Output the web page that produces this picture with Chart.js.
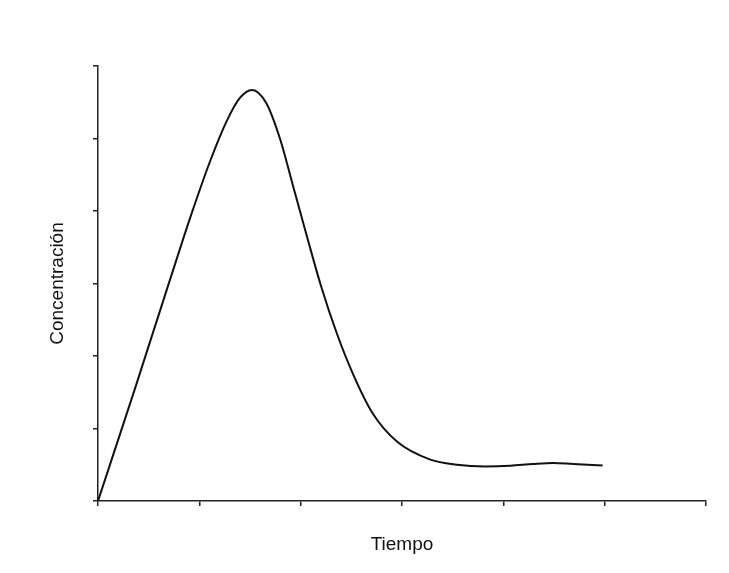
<!DOCTYPE html>
<html>
<head>
<meta charset="utf-8">
<script src="https://cdn.jsdelivr.net/npm/chart.js@4.4.0/dist/chart.umd.min.js"></script>
<style>
  html, body { margin: 0; padding: 0; background: #fff; }
  #wrap { width: 729px; height: 573px; }
</style>
</head>
<body>
<div id="wrap"><canvas id="myChart" width="729" height="573"></canvas></div>
<script>
// curve (axis units 0..6, no tick labels shown)
const tiempo = [0, 0.36, 0.71, 0.92, 1.11, 1.27, 1.40, 1.52, 1.66, 1.80, 1.92, 2.06, 2.20, 2.36, 2.52, 2.71, 2.95, 3.28, 3.54, 3.82, 4.07, 4.29, 4.49, 4.69, 4.98];
const concentracion = [0, 1.53, 3.05, 3.95, 4.70, 5.24, 5.56, 5.67, 5.49, 4.98, 4.37, 3.66, 2.97, 2.30, 1.74, 1.21, 0.82, 0.57, 0.50, 0.475, 0.485, 0.51, 0.525, 0.51, 0.49];
const tickValues = [0, 1, 2, 3, 4, 5, 6];

const ctx = document.getElementById('myChart');

var puntos = [];
tiempo.forEach((t, i) => {
    puntos.push({ x: t, y: concentracion[i] });
});

const fontTitle = { family: 'Liberation Sans, Arial, sans-serif', size: 19 };

new Chart(ctx, {
    type: 'scatter',
    data: {
        datasets: [{
            data: puntos,
            showLine: true,
            borderColor: '#111',
            borderWidth: 2,
            pointRadius: 0,
            cubicInterpolationMode: 'monotone',
            fill: false
        }]
    },
    options: {
        responsive: false,
        animation: false,
        layout: { padding: { left: 0, top: 66, right: 23, bottom: 0 } },
        plugins: { legend: { display: false }, tooltip: { enabled: false } },
        scales: {
            x: {
                type: 'linear',
                min: 0,
                max: 6,
                afterBuildTicks: (scale) => { scale.ticks = tickValues.map(v => ({ value: v })); },
                afterFit: (scale) => { scale.height = 72; },
                ticks: { display: false },
                grid: { drawOnChartArea: false, drawTicks: true, tickLength: 5, color: '#222', lineWidth: 1.5 },
                border: { color: '#222', width: 1.5 },
                title: { display: true, text: 'Tiempo', color: '#111', font: fontTitle, padding: { top: 0, bottom: 17 } }
            },
            y: {
                type: 'linear',
                min: 0,
                max: 6,
                afterBuildTicks: (scale) => { scale.ticks = tickValues.map(v => ({ value: v })); },
                afterFit: (scale) => { scale.width = 98; },
                ticks: { display: false },
                grid: { drawOnChartArea: false, drawTicks: true, tickLength: 5, color: '#222', lineWidth: 1.5 },
                border: { color: '#222', width: 1.5 },
                title: { display: true, text: 'Concentración', color: '#111', font: fontTitle, padding: { top: 46, bottom: 0 } }
            }
        }
    }
});
</script>
</body>
</html>
